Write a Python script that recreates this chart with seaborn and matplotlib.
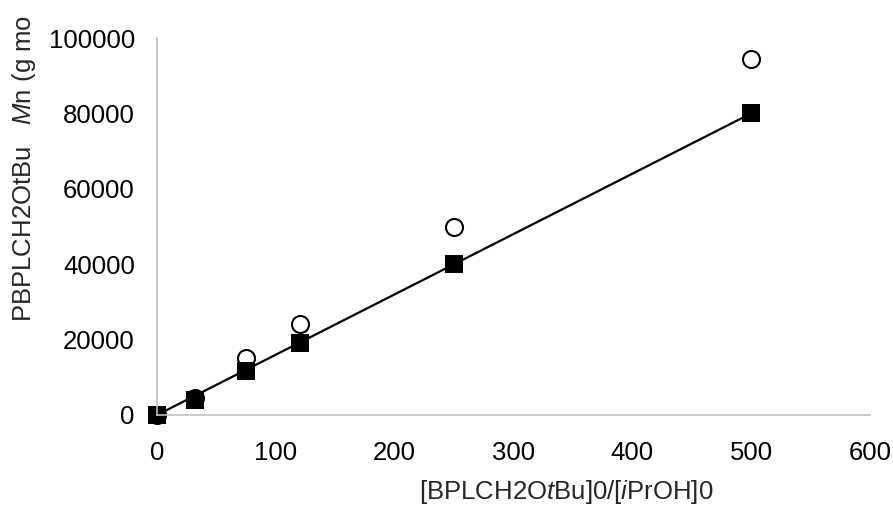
import matplotlib
matplotlib.use("Agg")
import matplotlib.pyplot as plt
import seaborn as sns
import pandas as pd

# Data
calc_ratio = [0, 32, 75, 120, 250, 500]
calc_mn = [0, 4000, 11800, 19000, 40000, 80100]
exp_ratio = [0, 32, 75, 120, 250, 500]
exp_mn = [0, 4500, 15100, 24100, 49900, 94300]
trend_ratio = [0, 500]
trend_mn = [0, 80000]
x_ticks = [0, 100, 200, 300, 400, 500, 600]
y_ticks = [0, 20000, 40000, 60000, 80000, 100000]

sns.set_style("white")
plt.rcParams["font.family"] = ["Liberation Sans", "DejaVu Sans"]
plt.rcParams["mathtext.fontset"] = "custom"
plt.rcParams["mathtext.rm"] = "Liberation Sans"
plt.rcParams["mathtext.it"] = "Liberation Sans:italic"

FS = 18.5
W, H = 893, 509
fig = plt.figure(figsize=(W / 100, H / 100), dpi=100)
ax = fig.add_axes([157 / W, 1 - 415 / H, (870 - 157) / W, (415 - 38) / H])

df_calc = pd.DataFrame({"ratio": calc_ratio, "mn": calc_mn})
df_exp = pd.DataFrame({"ratio": exp_ratio, "mn": exp_mn})
df_trend = pd.DataFrame({"ratio": trend_ratio, "mn": trend_mn})

sns.scatterplot(data=df_exp, x="ratio", y="mn", ax=ax, marker="o", s=150,
                facecolor="white", edgecolor="black", linewidth=1.5,
                clip_on=False, zorder=2)
sns.lineplot(data=df_trend, x="ratio", y="mn", ax=ax, color="black",
             linewidth=1.6, zorder=3)
sns.scatterplot(data=df_calc, x="ratio", y="mn", ax=ax, marker="s", s=175,
                color="black", edgecolor="black", linewidth=0,
                clip_on=False, zorder=4)

ax.set_xlim(0, 600)
ax.set_ylim(0, 100000)
ax.set_xticks(x_ticks)
ax.set_yticks(y_ticks)
ax.set_xticklabels([str(v) for v in x_ticks])
ax.set_yticklabels([str(v) for v in y_ticks])

for side in ["top", "right"]:
    ax.spines[side].set_visible(False)
for side in ["left", "bottom"]:
    ax.spines[side].set_color("#bfbfbf")
    ax.spines[side].set_linewidth(1.2)
    ax.spines[side].set_zorder(5)
ax.tick_params(axis="both", which="major", direction="out", length=5,
               width=1.2, color="#bfbfbf", labelsize=FS, labelcolor="black")
ax.tick_params(axis="x", pad=14)
ax.tick_params(axis="y", pad=11)
ax.set_xlabel("")
ax.set_ylabel("")

fig.text(566 / W, 1 - 492 / H, r"[BPLCH2O$\mathit{t}$Bu]0/[$\mathit{i}$PrOH]0",
         ha="center", va="center", fontsize=FS)
fig.text(24 / W, 1 - 322 / H,
         r"PBPLCH2OtBu   $\mathit{M}$n (g mo",
         rotation=90, ha="center", va="bottom", fontsize=FS)

fig.savefig("out.png", dpi=100)
